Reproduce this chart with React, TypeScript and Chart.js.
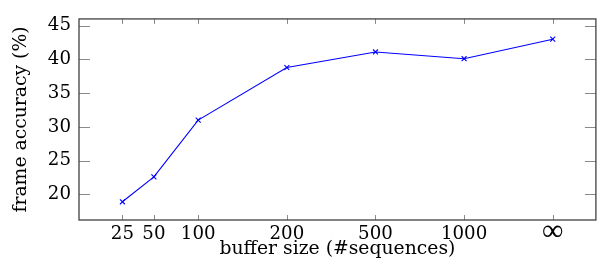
import React, { useEffect, useRef } from "react";
import { Chart, registerables } from "chart.js";

Chart.register(...registerables);

const categories = ["25", "50", "100", "200", "500", "1000", "∞"];
const xPositions = [0.145, 0.5, 1, 2, 3, 4, 5];
const accuracy = [18.9, 22.6, 31.0, 38.8, 41.1, 40.1, 43.0];
const yTicks = [20, 25, 30, 35, 40, 45];

const FONT = "'DejaVu Serif', 'Liberation Serif', serif";
const INF_FONT = "'Liberation Serif', 'DejaVu Serif', serif";

const frameTicks = {
  id: "frameTicks",
  afterDraw(chart: any) {
    const { ctx, chartArea: a, scales } = chart;
    const xs = scales.x;
    const ys = scales.y;
    ctx.save();
    ctx.strokeStyle = "#8a8a8a";
    ctx.lineWidth = 1;
    ctx.beginPath();
    xPositions.forEach((p) => {
      const px = Math.round(xs.getPixelForValue(p)) + 0.5;
      ctx.moveTo(px, a.bottom);
      ctx.lineTo(px, a.bottom - 5);
      ctx.moveTo(px, a.top);
      ctx.lineTo(px, a.top + 5);
    });
    yTicks.forEach((v) => {
      const py = Math.round(ys.getPixelForValue(v)) + 0.5;
      ctx.moveTo(a.left, py);
      ctx.lineTo(a.left + 11, py);
      ctx.moveTo(a.right, py);
      ctx.lineTo(a.right - 11, py);
    });
    ctx.stroke();
    ctx.strokeStyle = "#404040";
    ctx.lineWidth = 1.3;
    ctx.strokeRect(a.left, a.top, a.right - a.left, a.bottom - a.top);
    ctx.restore();
  },
};

export default function App() {
  const ref = useRef<HTMLCanvasElement>(null);
  useEffect(() => {
    document.body.style.margin = "0";
    const canvas = ref.current!;
    const chart = new Chart(canvas, {
      type: "line",
      data: {
        datasets: [
          {
            data: xPositions.map((x, i) => ({ x, y: accuracy[i] })),
            borderColor: "#0000ff",
            backgroundColor: "#0000ff",
            borderWidth: 1.1,
            pointStyle: "crossRot",
            pointRadius: 3.5,
            pointBorderColor: "#0000ff",
            pointBorderWidth: 1.1,
            fill: false,
            tension: 0,
          },
        ],
      },
      options: {
        responsive: false,
        animation: false,
        devicePixelRatio: 1,
        layout: { padding: { top: 5, right: 3, left: 0, bottom: 0 } },
        plugins: { legend: { display: false }, tooltip: { enabled: false } },
        scales: {
          x: {
            type: "linear",
            min: -0.345,
            max: 5.487,
            grid: { display: false, drawTicks: false },
            border: { display: false },
            afterBuildTicks: (s: any) => {
              s.ticks = xPositions.map((v) => ({ value: v }));
            },
            afterFit: (s: any) => {
              s.height = 44;
            },
            ticks: {
              autoSkip: false,
              maxRotation: 0,
              padding: 3,
              color: "#000",
              font: (c: any) =>
                c.tick && c.tick.value === xPositions[xPositions.length - 1]
                  ? { family: INF_FONT, size: 30, lineHeight: 0.64 }
                  : { family: FONT, size: 18.2 },
              callback: (v: any) => {
                const i = xPositions.indexOf(v);
                return i >= 0 ? categories[i] : "";
              },
            },
            title: {
              display: true,
              text: "buffer size (#sequences)",
              color: "#000",
              font: { family: FONT, size: 18.8 },
              padding: { top: 0, bottom: 4 },
            },
          },
          y: {
            type: "linear",
            min: 16.2,
            max: 46.0,
            grid: { display: false, drawTicks: false },
            border: { display: false },
            afterBuildTicks: (s: any) => {
              s.ticks = yTicks.map((v) => ({ value: v }));
            },
            afterFit: (s: any) => {
              s.width = 79;
            },
            ticks: {
              padding: 8,
              color: "#000",
              font: { family: FONT, size: 18.2 },
            },
            title: {
              display: true,
              text: "frame accuracy (%)",
              color: "#000",
              font: { family: FONT, size: 18.8 },
              padding: { top: 10, bottom: 0 },
            },
          },
        },
      },
      plugins: [frameTicks],
    });
    return () => chart.destroy();
  }, []);
  return <canvas ref={ref} width={601} height={264} style={{ display: "block" }} />;
}
